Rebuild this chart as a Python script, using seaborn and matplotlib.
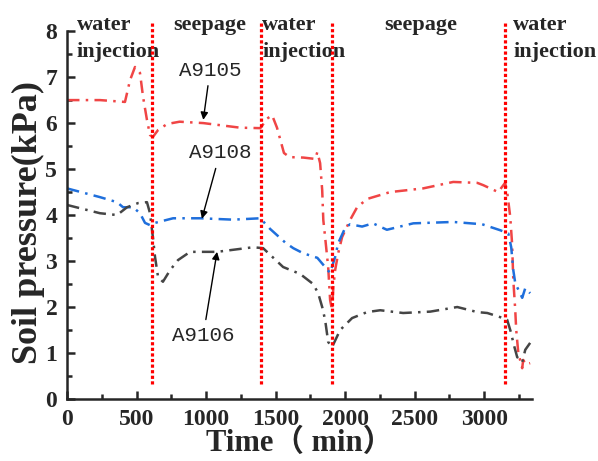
import matplotlib
matplotlib.use("Agg")
import matplotlib.pyplot as plt
import seaborn as sns
import pandas as pd

# Soil pressure readings (kPa) over time (min)
t_a9105 = [0, 237, 417, 453, 489, 525, 547, 575, 597, 618, 655, 720, 810, 980, 1245, 1390,
           1440, 1475, 1510, 1560, 1600, 1700, 1785, 1800, 1820, 1835, 1843, 1856, 1878, 1892,
           1906, 1915, 1928, 1950, 1978, 2035, 2086, 2158, 2324, 2561, 2777, 2950, 2993, 3100,
           3150, 3165, 3187, 3200, 3209, 3223, 3230, 3245, 3273, 3280, 3300, 3330]
p_a9105 = [6.5, 6.5, 6.46, 6.93, 7.22, 7.09, 6.57, 6.07, 5.74, 5.7, 5.85, 5.98, 6.03, 6.0, 5.9, 5.89,
           6.1, 6.17, 5.9, 5.35, 5.26, 5.25, 5.22, 5.37, 5.13, 4.54, 3.89, 3.52, 2.87, 2.15,
           1.93, 2.43, 2.8, 3.17, 3.52, 3.89, 4.17, 4.35, 4.5, 4.58, 4.72, 4.7, 4.65, 4.5,
           4.7, 4.5, 3.96, 3.39, 2.59, 1.93, 1.5, 1.0, 0.67, 0.85, 0.75, 0.78]

t_a9108 = [0, 237, 360, 403, 475, 525, 561, 597, 633, 763, 957, 1194, 1390, 1460, 1570, 1627,
           1698, 1800, 1856, 1892, 1928, 1950, 2000, 2035, 2122, 2200, 2300, 2490, 2777, 2985,
           3115, 3173, 3194, 3209, 3223, 3273, 3295, 3330]
p_a9108 = [4.58, 4.39, 4.28, 4.17, 4.17, 4.04, 3.83, 3.78, 3.83, 3.93, 3.93, 3.9, 3.93, 3.7, 3.4, 3.28,
           3.17, 3.07, 2.87, 2.74, 3.09, 3.39, 3.72, 3.8, 3.75, 3.82, 3.68, 3.82, 3.85, 3.8,
           3.67, 3.6, 3.3, 2.8, 2.52, 2.2, 2.41, 2.3]

t_a9106 = [0, 237, 360, 432, 511, 575, 597, 620, 633, 655, 690, 741, 798, 885, 1079, 1338,
           1410, 1554, 1676, 1770, 1806, 1835, 1856, 1878, 1906, 1964, 2050, 2158, 2252, 2417,
           2612, 2806, 2950, 3022, 3115, 3165, 3194, 3209, 3237, 3273, 3295, 3330]
p_a9106 = [4.22, 4.04, 4.0, 4.17, 4.26, 4.28, 4.04, 3.46, 3.09, 2.65, 2.55, 2.8, 3.02, 3.2, 3.2, 3.3,
           3.28, 2.87, 2.72, 2.5, 2.3, 2.0, 1.72, 1.24, 1.13, 1.5, 1.76, 1.89, 1.93, 1.87,
           1.9, 2.0, 1.89, 1.87, 1.78, 1.72, 1.43, 1.22, 0.91, 0.8, 1.07, 1.22]

# stage boundaries and stage names
boundaries = [610, 1395, 1906, 3150]
stage_names = ["water\ninjection", "seepage", "water\ninjection", "seepage", "water\ninjection"]
stage_x = [72, 1029, 1403, 2540, 3209]

df = pd.concat([
    pd.DataFrame({"time": t_a9105, "pressure": p_a9105, "sensor": "A9105"}),
    pd.DataFrame({"time": t_a9108, "pressure": p_a9108, "sensor": "A9108"}),
    pd.DataFrame({"time": t_a9106, "pressure": p_a9106, "sensor": "A9106"}),
])

sns.set_style("ticks")
plt.rcParams["font.family"] = ["Liberation Serif", "Noto Sans CJK SC", "DejaVu Sans"]
plt.rcParams["font.weight"] = "bold"

fig = plt.figure(figsize=(5.98, 4.61), dpi=100)
ax = fig.add_axes([0.112, 0.1345, 0.778, 0.798])

colors = {"A9105": "#f04545", "A9108": "#1f6fdc", "A9106": "#454545"}
for name, grp in df.groupby("sensor", sort=False):
    sns.lineplot(data=grp, x="time", y="pressure", ax=ax, color=colors[name],
                 linewidth=1.8, linestyle=(0, (5, 2.5, 1, 2.5)), estimator=None, sort=False)

ax.vlines(boundaries, 0.33, 8.2, colors="#ff0000", linewidth=2.3,
          linestyles=(0, (1, 0.75)), clip_on=False, zorder=5)

for x, name in zip(stage_x, stage_names):
    lines = name.split("\n")
    if len(lines) == 1:
        ax.text(x, 8.13, lines[0], ha="center", va="center", fontsize=16,
                fontweight="bold", clip_on=False)
    else:
        ax.text(x, 8.13, lines[0], ha="left", va="center", fontsize=16,
                fontweight="bold", clip_on=False)
        ax.text(x, 7.54, lines[1], ha="left", va="center", fontsize=16,
                fontweight="bold", clip_on=False)

arrow = dict(arrowstyle="-|>", color="black", lw=1.0, mutation_scale=11, shrinkA=2, shrinkB=0)
mono = ["Liberation Mono", "DejaVu Sans Mono"]
ax.annotate("A9105", xy=(980, 6.07), xytext=(1029, 7.15), ha="center", va="center",
            fontsize=15, family=mono, fontweight="normal", arrowprops=arrow)
ax.annotate("A9108", xy=(970, 3.92), xytext=(1100, 5.35), ha="center", va="center",
            fontsize=15, family=mono, fontweight="normal", arrowprops=arrow)
ax.annotate("A9106", xy=(1079, 3.2), xytext=(980, 1.39), ha="center", va="center",
            fontsize=15, family=mono, fontweight="normal", arrowprops=arrow)

ax.set_xlim(0, 3345)
ax.set_ylim(0, 8)
ax.set_xticks(range(0, 3001, 500))
ax.set_xticks(range(250, 3345, 500), minor=True)
ax.set_yticks(range(0, 9))
ax.set_yticks([i + 0.5 for i in range(8)], minor=True)
ax.tick_params(which="both", direction="in", width=1.8, labelsize=17, pad=7)
ax.tick_params(which="major", length=6)
ax.tick_params(which="minor", length=3.5)
for lab in ax.get_xticklabels() + ax.get_yticklabels():
    lab.set_fontweight("bold")

sns.despine(ax=ax)
ax.spines["left"].set_linewidth(1.8)
ax.spines["bottom"].set_linewidth(1.8)

ax.set_xlabel("Time（ min）", fontsize=22, fontweight="bold")
ax.set_ylabel("Soil pressure(kPa)", fontsize=26, fontweight="bold")
ax.xaxis.set_label_coords(0.5, -0.08)
ax.yaxis.set_label_coords(-0.048, 0.48)

fig.savefig("out.png", dpi=100)
